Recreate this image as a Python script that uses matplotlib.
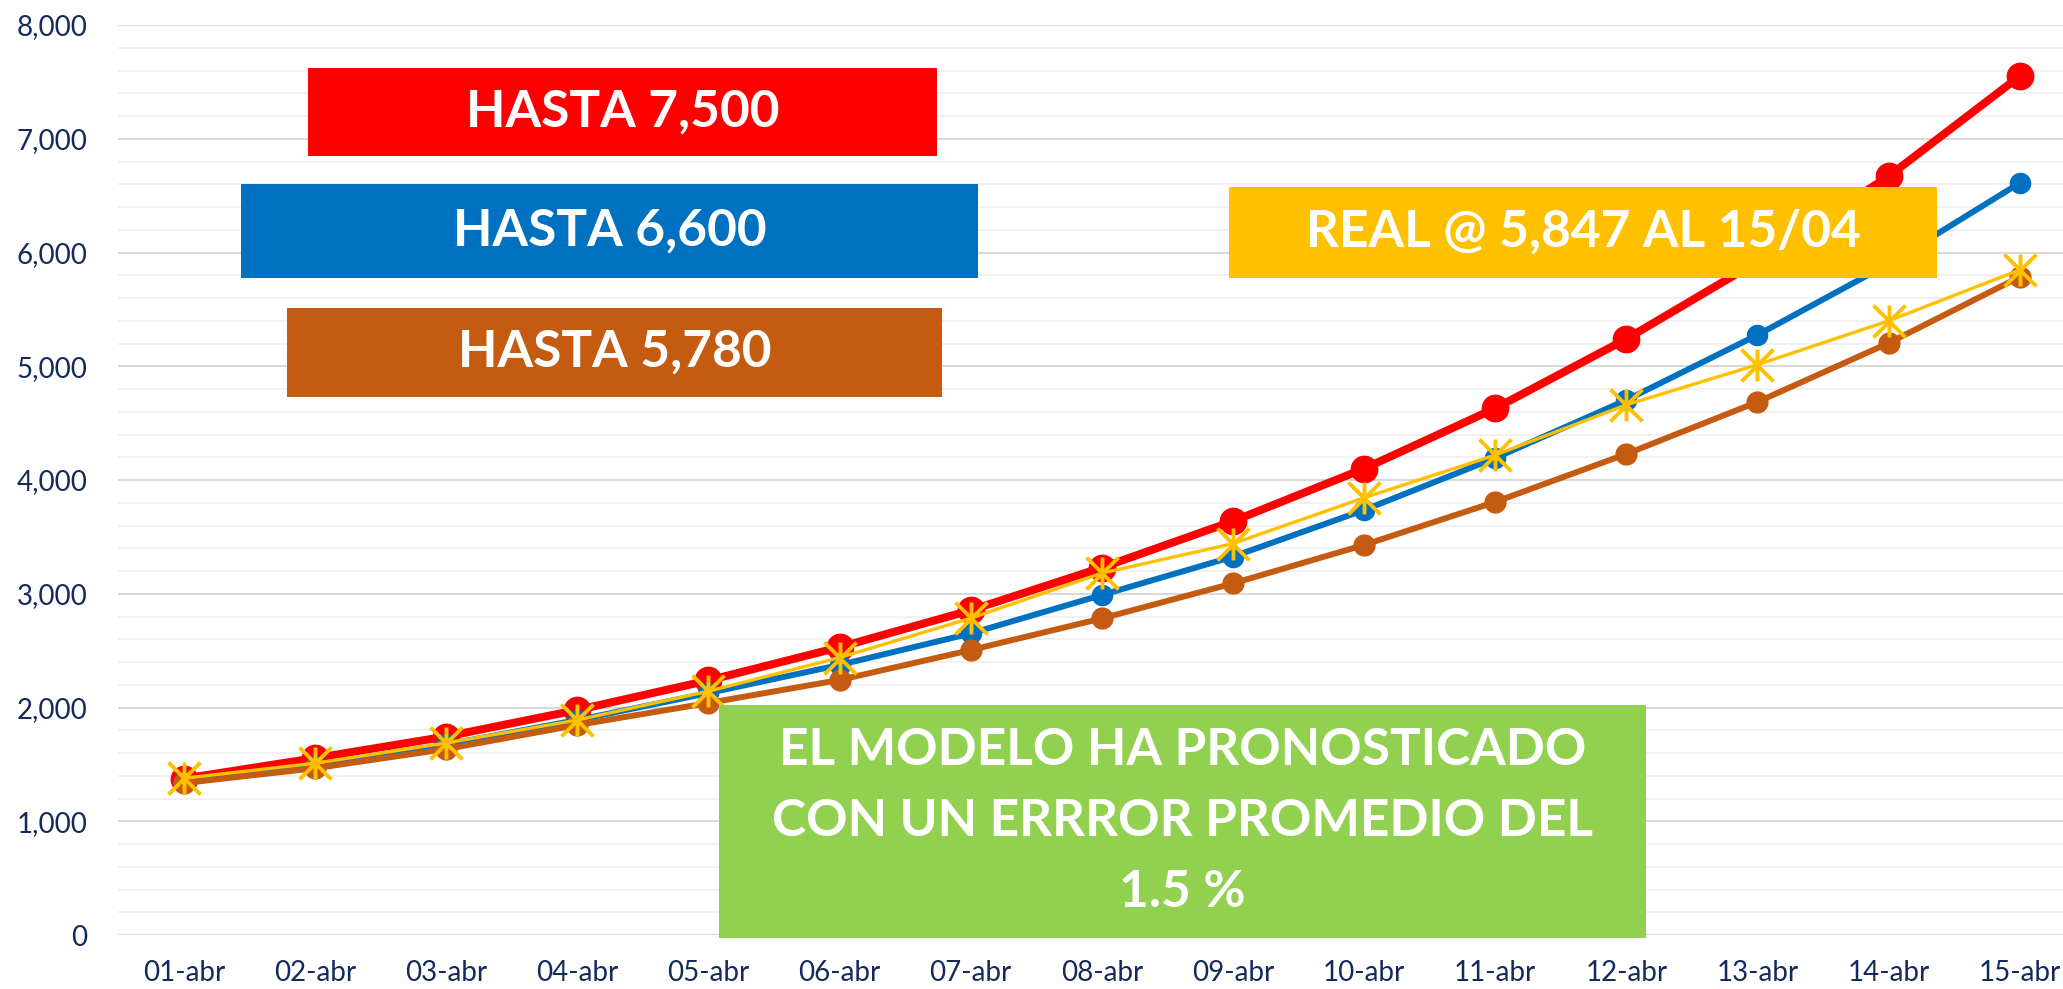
import matplotlib
matplotlib.use("Agg")
import matplotlib.pyplot as plt
from matplotlib.patches import Rectangle
from matplotlib.path import Path
from matplotlib.ticker import MultipleLocator, FuncFormatter

# ---------------- data ----------------
dates = ['01-abr', '02-abr', '03-abr', '04-abr', '05-abr', '06-abr', '07-abr', '08-abr',
         '09-abr', '10-abr', '11-abr', '12-abr', '13-abr', '14-abr', '15-abr']
hasta_7500 = [1375, 1555, 1745, 1978, 2238, 2530, 2855, 3230, 3638, 4100, 4630, 5240, 5920, 6670, 7550]
hasta_6600 = [1348, 1488, 1675, 1890, 2127, 2374, 2651, 2989, 3326, 3736, 4193, 4703, 5275, 5900, 6611]
hasta_5780 = [1336, 1466, 1635, 1846, 2040, 2242, 2505, 2783, 3091, 3429, 3807, 4229, 4686, 5204, 5785]
real = [1378, 1510, 1688, 1890, 2143, 2439, 2785, 3181, 3441, 3844, 4219, 4661, 5014, 5399, 5847]

box_texts = ['HASTA 7,500', 'HASTA 6,600', 'HASTA 5,780', 'REAL @ 5,847 AL 15/04',
             'EL MODELO HA PRONOSTICADO\nCON UN ERRROR PROMEDIO DEL\n1.5 %']

# ---------------- style ----------------
RED = '#FF0000'
BLUE = '#0070C0'
BROWN = '#C55A11'
YELLOW = '#FFC000'
GREEN = '#92D050'
NAVY = '#14295C'

W, H = 2063, 989
fig = plt.figure(figsize=(W / 100, H / 100), dpi=100)
ax_left, ax_right, ax_top, ax_bottom = 118, 2063, 25, 935
ax = fig.add_axes([ax_left / W, 1 - ax_bottom / H, (ax_right - ax_left) / W, (ax_bottom - ax_top) / H])

x = list(range(len(dates)))

ax.set_ylim(0, 8000)
ax.set_xlim(-0.503, 14.33)
ax.yaxis.set_major_locator(MultipleLocator(1000))
ax.yaxis.set_minor_locator(MultipleLocator(200))
ax.yaxis.set_major_formatter(FuncFormatter(lambda v, p: f'{int(v):,}'))
ax.grid(which='minor', axis='y', color='#F0F0F0', lw=1.3, zorder=0)
ax.grid(which='major', axis='y', color='#D9D9D9', lw=1.5, zorder=0)
ax.set_axisbelow(True)
for s in ax.spines.values():
    s.set_visible(False)
ax.tick_params(which='both', length=0)
ax.tick_params(axis='y', pad=22, labelsize=20, labelcolor=NAVY)
ax.tick_params(axis='x', pad=18, labelsize=20, labelcolor=NAVY)
ax.set_xticks(x)
ax.set_xticklabels(dates)
for lab in ax.get_xticklabels() + ax.get_yticklabels():
    lab.set_family('Lato')

ax.plot(x, hasta_7500, color=RED, lw=5.8, marker='o', ms=19, zorder=3, clip_on=False)
ax.plot(x, hasta_6600, color=BLUE, lw=4.3, marker='o', ms=14.5, zorder=4, clip_on=False)
ax.plot(x, hasta_5780, color=BROWN, lw=4.3, marker='o', ms=15, zorder=5, clip_on=False)
star = Path([(0, -1), (0, 1), (-1, -1), (1, 1), (-1, 1), (1, -1)],
            [Path.MOVETO, Path.LINETO, Path.MOVETO, Path.LINETO, Path.MOVETO, Path.LINETO])
ax.plot(x, real, color=YELLOW, lw=2.4, marker=star, ms=23, mew=2.8, mec=YELLOW, zorder=6, clip_on=False)


def box(x0, y0, x1, y1, color, text, fs, ls=1.2):
    fig.add_artist(Rectangle((x0 / W, 1 - y1 / H), (x1 - x0) / W, (y1 - y0) / H,
                             transform=fig.transFigure, facecolor=color, edgecolor='none', zorder=10))
    fig.text((x0 + x1) / 2 / W, 1 - (y0 + y1) / 2 / H, text, ha='center', va='center',
             color='white', fontsize=fs, fontweight='bold', family='Lato', zorder=11,
             linespacing=ls, multialignment='center')


box(308, 68, 937, 156, RED, box_texts[0], 37)
box(241, 184, 978, 278, BLUE, box_texts[1], 37)
box(287, 308, 942, 397, BROWN, box_texts[2], 37)
box(1229, 187, 1937, 278, YELLOW, box_texts[3], 37)
box(719, 705, 1646, 938, GREEN, box_texts[4], 37, ls=1.62)

fig.savefig('out.png', dpi=100)
